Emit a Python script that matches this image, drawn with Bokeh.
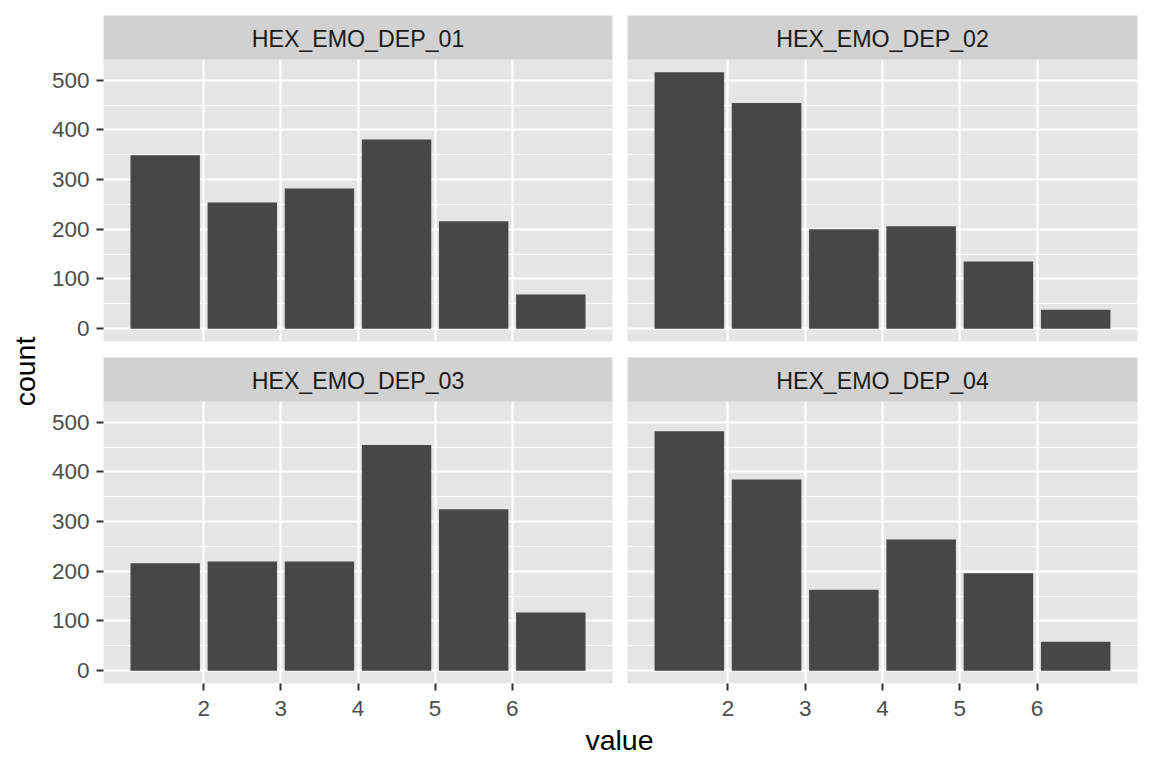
import math
from bokeh.plotting import figure
from bokeh.models import Range1d, FixedTicker, Grid, BoxAnnotation, Label
from bokeh.layouts import row, column
from bokeh.embed import file_html
from bokeh.resources import INLINE

# ---------------- data ----------------
panel_names = ["HEX_EMO_DEP_01", "HEX_EMO_DEP_02", "HEX_EMO_DEP_03", "HEX_EMO_DEP_04"]
bin_centers = [1.5, 2.5, 3.5, 4.5, 5.5, 6.5]
dep01_counts = [349, 254, 282, 381, 216, 69]
dep02_counts = [516, 454, 200, 206, 135, 38]
dep03_counts = [216, 220, 220, 454, 325, 117]
dep04_counts = [482, 385, 163, 264, 196, 58]
x_tick_values = [2, 3, 4, 5, 6]
y_tick_values = [0, 100, 200, 300, 400, 500]
y_minor_values = [50, 150, 250, 350, 450]
x_title = "value"
y_title = "count"

# ---------------- style ----------------
FONT = "Liberation Sans"
BAR = "#474747"
PANEL_BG = "#E5E5E5"
STRIP_BG = "#D1D1D1"
TICK_COL = "#333333"
TICK_TXT = "#4D4D4D"
TICK_SIZE = "22.5px"
STRIP_SIZE = "23.2px"
TITLE_SIZE = "28.5px"

all_counts = dep01_counts + dep02_counts + dep03_counts + dep04_counts
ymax = max(all_counts) * 1.05
ymin = -max(all_counts) * 0.05
PANEL_H = 282
STRIP_H = 44
FRAME_H = PANEL_H + STRIP_H
upp = (ymax - ymin) / PANEL_H
y_end = ymin + FRAME_H * upp
xmin, xmax = 0.7, 7.3


def make_panel(name, counts, left_col, bottom_row):
    mb_left = 53 if left_col else 8
    frame_w = 511 if left_col else 510
    mb_right = 7
    mb_top = 15 if not bottom_row else 0
    mb_bottom = 40 if bottom_row else 16
    p = figure(
        width=mb_left + frame_w + mb_right,
        height=mb_top + FRAME_H + mb_bottom,
        x_range=Range1d(xmin, xmax),
        y_range=Range1d(ymin, y_end),
        x_axis_location="below" if bottom_row else None,
        y_axis_location="left" if left_col else None,
        output_backend="svg",
        toolbar_location=None,
        title=None,
        min_border_left=mb_left,
        min_border_right=mb_right,
        min_border_top=mb_top,
        min_border_bottom=mb_bottom,
    )
    p.center = []
    p.outline_line_color = None
    p.background_fill_color = PANEL_BG
    p.border_fill_color = "white"

    xg = Grid(dimension=0, ticker=FixedTicker(ticks=x_tick_values),
              grid_line_color="white", grid_line_width=2.2)
    yg = Grid(dimension=1, ticker=FixedTicker(ticks=y_tick_values, minor_ticks=y_minor_values),
              grid_line_color="white", grid_line_width=2.2,
              minor_grid_line_color="white", minor_grid_line_width=1.1)
    p.add_layout(xg, "center")
    p.add_layout(yg, "center")

    p.vbar(x=bin_centers, top=counts, bottom=0, width=0.9,
           fill_color=BAR, line_color=None)

    for ax in p.axis:
        ax.axis_line_color = None
        ax.major_tick_line_color = TICK_COL
        ax.major_tick_line_width = 2
        ax.major_tick_out = 7
        ax.major_tick_in = 0
        ax.minor_tick_line_color = None
        ax.major_label_text_color = TICK_TXT
        ax.major_label_text_font = FONT
        ax.major_label_text_font_size = TICK_SIZE
    if left_col:
        p.yaxis.ticker = FixedTicker(ticks=y_tick_values)
        p.yaxis.major_label_standoff = 7
    if bottom_row:
        p.xaxis.ticker = FixedTicker(ticks=x_tick_values)
        p.xaxis.major_label_standoff = 10

    strip = BoxAnnotation(bottom=ymax, top=y_end, fill_color=STRIP_BG, fill_alpha=1.0,
                          line_color=None)
    p.add_layout(strip)
    lab = Label(x=(xmin + xmax) / 2, y=ymax, y_offset=21, text=name,
                text_align="center", text_baseline="middle",
                text_font=FONT, text_font_size=STRIP_SIZE, text_color="#1A1A1A")
    p.add_layout(lab)
    return p


p1 = make_panel(panel_names[0], dep01_counts, True, False)
p2 = make_panel(panel_names[1], dep02_counts, False, False)
p3 = make_panel(panel_names[2], dep03_counts, True, True)
p4 = make_panel(panel_names[3], dep04_counts, False, True)

grid_w = p1.width + p2.width
TITLE_H = 45
YT_W = 48
total_h = p1.height + p3.height + TITLE_H


def blank(w, h):
    f = figure(width=w, height=h, x_range=Range1d(0, w), y_range=Range1d(0, h),
               x_axis_location=None, y_axis_location=None, output_backend="svg",
               toolbar_location=None, title=None, min_border=0)
    f.center = []
    f.outline_line_color = None
    f.background_fill_color = "white"
    f.border_fill_color = "white"
    return f


# x title centred under the panels (page x 619 -> offset by the y-title column)
xt = blank(grid_w, TITLE_H)
xt.add_layout(Label(x=619 - YT_W, y=28.9, text=x_title, text_align="center",
                    text_baseline="middle", text_font=FONT,
                    text_font_size=TITLE_SIZE, text_color="black"))

yt = blank(YT_W, total_h)
yt.add_layout(Label(x=24.5, y=total_h - 371, text=y_title, text_align="center",
                    text_baseline="middle", angle=math.pi / 2, text_font=FONT,
                    text_font_size=TITLE_SIZE, text_color="black"))

layout = row(yt, column(row(p1, p2), row(p3, p4), xt))

open("out.html", "w").write(file_html(layout, INLINE))
